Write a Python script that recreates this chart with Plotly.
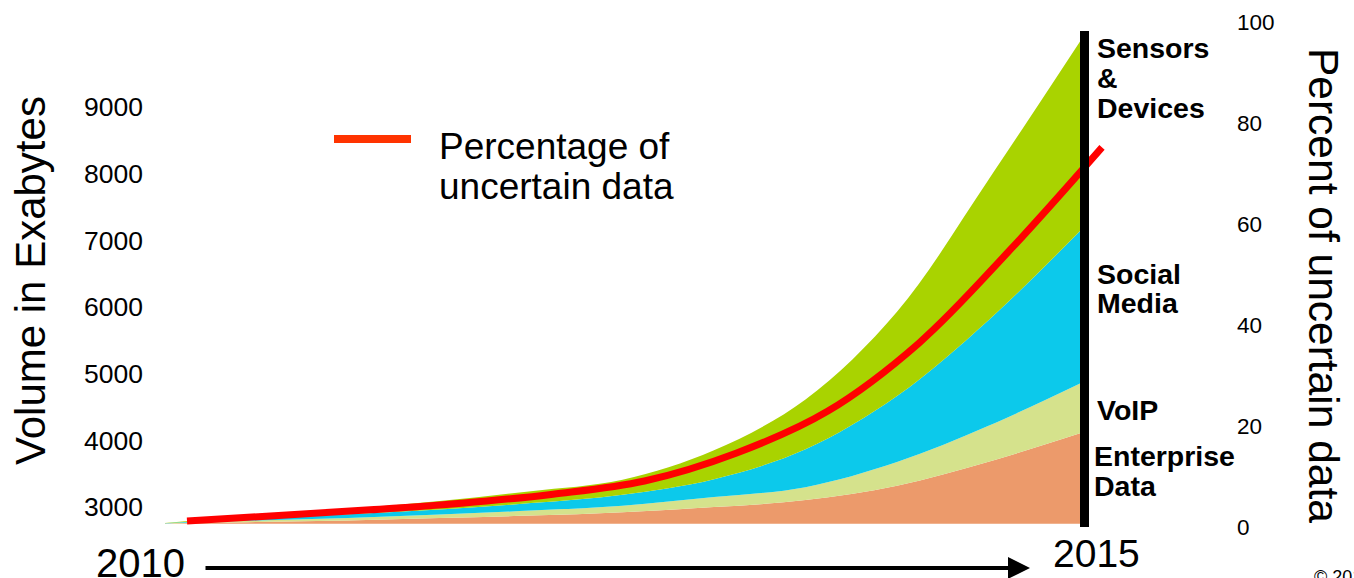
import plotly.graph_objects as go

# ---- data -------------------------------------------------------------
years = [2010, 2010.5, 2011, 2011.5, 2012, 2012.5, 2013, 2013.5, 2014, 2014.5, 2015]
base_volume = 2750  # exabytes, floor of the stacked areas

# layer thicknesses in exabytes (stacked bottom to top)
enterprise = [4, 26, 48, 86, 123, 175, 250, 355, 571, 930, 1356]
voip = [2, 22, 38, 52, 75, 97, 150, 194, 354, 539, 748]
social = [2, 38, 59, 75, 112, 165, 269, 568, 990, 1584, 2287]
sensors = [3, 44, 75, 127, 179, 224, 433, 748, 1264, 2108, 2841]

# percentage of uncertain data (right axis)
pct_years = [2010, 2010.5, 2011, 2011.5, 2012, 2012.5, 2013, 2013.5, 2014, 2014.5, 2015]
pct_uncertain = [1.3, 2.4, 3.5, 4.8, 6.6, 9.2, 14.7, 23.0, 36.5, 55.0, 75.2]

left_ticks = [3000, 4000, 5000, 6000, 7000, 8000, 9000]
right_ticks = [0, 20, 40, 60, 80, 100]

layer_names = ["Enterprise Data", "VoIP", "Social Media", "Sensors & Devices"]
layer_colors = ["#EC9A6B", "#D5E28C", "#0CC9EB", "#A9D300"]

# ---- page geometry (pixels) --------------------------------------------
W_PAGE, H_PAGE = 1354, 578
L, R, T, B = 150, 1234, 10, 540          # paper box
PLOT_RIGHT = 1130                         # right edge of the x axis domain
PW, PH = R - L, B - T

def px(x):
    return (x - L) / PW

def py(y):
    return (B - y) / PH

FONT = "Liberation Sans, Arial, sans-serif"

fig = go.Figure()

# invisible floor so the stack starts at base_volume
fig.add_trace(go.Scatter(
    x=years, y=[base_volume] * len(years), stackgroup="vol",
    line=dict(width=0, shape="spline"), fillcolor="rgba(0,0,0,0)",
    hoverinfo="skip", showlegend=False))

for name, vals, col in zip(layer_names, [enterprise, voip, social, sensors], layer_colors):
    fig.add_trace(go.Scatter(
        x=years, y=vals, name=name, stackgroup="vol",
        line=dict(width=0, shape="spline", color=col), fillcolor=col,
        showlegend=False))

fig.add_trace(go.Scatter(
    x=pct_years, y=pct_uncertain, name="Percentage of uncertain data",
    xaxis="x2", yaxis="y2", mode="lines",
    line=dict(color="#FF0000", width=7, shape="spline"), showlegend=False))

x_per_px = 1 / 183.0
x_lo = years[0] - (165 - L) * x_per_px
x_hi = x_lo + (PLOT_RIGHT - L) * x_per_px
shift = 22 * x_per_px

# left axis: 3000 sits at y=507 px, 14.94 exabytes per pixel
# right axis: 0 % sits at y=527.5 px, 5.075 px per percent
fig.update_layout(
    width=W_PAGE, height=H_PAGE,
    margin=dict(l=L, r=W_PAGE - R, t=T, b=H_PAGE - B),
    paper_bgcolor="white", plot_bgcolor="white",
    font=dict(family=FONT, color="black"),
    xaxis=dict(domain=[0, (PLOT_RIGHT - L) / PW], range=[x_lo, x_hi],
               visible=False, showgrid=False, zeroline=False),
    xaxis2=dict(domain=[0, (PLOT_RIGHT - L) / PW], range=[x_lo - shift, x_hi - shift],
                overlaying="x", visible=False, anchor="y2"),
    yaxis=dict(range=[3000 - (B - 507) * 14.94, 3000 + (507 - T) * 14.94],
               tickvals=left_ticks, ticks="", showgrid=False, zeroline=False,
               showline=False, tickfont=dict(size=26.5, family=FONT, color="black"),
               ticklabelstandoff=6),
    yaxis2=dict(range=[(527.5 - B) / 5.075, (527.5 - T) / 5.075],
                overlaying="y", side="right", anchor="free", position=1.0,
                tickvals=right_ticks, ticks="", showgrid=False, zeroline=False,
                showline=False, tickfont=dict(size=22.5, family=FONT, color="black"),
                ticklabelstandoff=2),
)

# separator bar at the end of the period
bar_x = years[-1] + 4.5 * x_per_px
fig.add_shape(type="line", xref="x", yref="paper", x0=bar_x, x1=bar_x,
              y0=py(527), y1=py(29), line=dict(color="black", width=9))

# legend key for the red line
fig.add_shape(type="line", xref="paper", yref="paper", x0=px(334), x1=px(411),
              y0=py(137.5), y1=py(137.5), line=dict(color="#FF3300", width=8))

ann = []

def label(text, x, y, size, bold=False, xanchor="left", angle=0):
    t = f"<b>{text}</b>" if bold else text
    ann.append(dict(text=t, x=px(x), y=py(y), xref="paper", yref="paper",
                    xanchor=xanchor, yanchor="middle", showarrow=False,
                    textangle=angle, font=dict(size=size, family=FONT, color="black")))

label("Percentage of", 437, 145, 37)
label("uncertain data", 437, 185, 37)

for txt, yy in [("Sensors", 46), ("&", 76), ("Devices", 106)]:
    label(txt, 1095, yy, 28.5, bold=True)
for txt, yy in [("Social", 273), ("Media", 302)]:
    label(txt, 1095, yy, 28.5, bold=True)
label("VoIP", 1095, 410, 28.5, bold=True)
for txt, yy in [("Enterprise", 456), ("Data", 486)]:
    label(txt, 1092, yy, 28.5, bold=True)

label("Volume in Exabytes", 31, 280, 42, xanchor="center", angle=-90)
label("Percent of uncertain data", 1323, 284, 42.5, xanchor="center", angle=90)

label("2010", 140, 563, 40, xanchor="center")
label("2015", 1096, 554, 39, xanchor="center")
label("© 2012 IBM Corporation", 1312, 577, 18)

# timeline arrow
ann.append(dict(x=px(1030), y=py(568), xref="paper", yref="paper",
                ax=204 - 1030, ay=0, axref="pixel", ayref="pixel",
                showarrow=True, arrowhead=2, arrowsize=1.1, arrowwidth=4,
                arrowcolor="black", text=""))

fig.update_layout(annotations=ann)

fig.write_html("out.html")
